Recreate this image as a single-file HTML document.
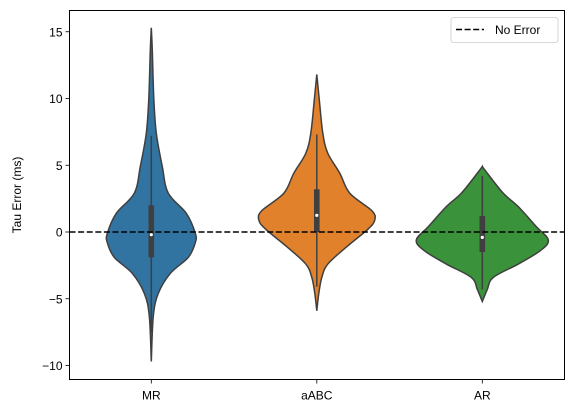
<!DOCTYPE html>
<html><head><meta charset="utf-8"><style>
html,body{margin:0;padding:0;background:#fff;}
svg{display:block;font-family:"Liberation Sans","DejaVu Sans",sans-serif;}
</style></head><body>
<svg id="chart" width="574" height="413">
<g id="plot"></g>
</svg>
<script>
const categories=["MR","aABC","AR"];
const colors=["#3274a1","#e1812c","#3a923a"];
// density profiles: y values (ms) and relative half-widths
const mrY=[15.3,13.6,10,7.4,4.9,2.9,1.4,-0.1,-0.8,-1.9,-3.1,-4.6,-6.3,-9.7];
const mrW=[0,1,2.5,5,11,17,35,44,44,37,19,7,2,0];
const abcY=[11.8,9.9,7.4,5.9,4.4,2.9,1.6,0.9,0.2,-1.1,-2.4,-3.4,-4.6,-5.9];
const abcW=[0,2.5,6,11,23,33,55,58,51,30,11,5,2,0];
const arY=[4.9,4.4,2.9,1.9,0.4,-0.6,-1.4,-2.4,-3.4,-4.3,-5.2];
const arW=[0,5,21,36,54,66,58,36,11,5,0];
const q1=[-1.9,0.0,-1.5];
const q3=[2.0,3.2,1.2];
const medians=[-0.2,1.25,-0.4];
const whiskLo=[-7.5,-4.1,-4.3];
const whiskHi=[7.2,7.3,4.2];
const yTicks=[15,10,5,0,-5,-10];

const L=69.5,R=564.5,T=10.5,B=379.5;
const y0px=232,pxPerUnit=13.35;
const yS=v=>y0px-v*pxPerUnit;
const xS=i=>151.3+i*165.5;
const NS="http://www.w3.org/2000/svg";
const svg=document.getElementById('chart');
const plot=document.getElementById('plot');
function mk(tag,attrs,parent){const e=document.createElementNS(NS,tag);for(const k in attrs)e.setAttribute(k,attrs[k]);(parent||plot).appendChild(e);return e;}
function smooth(pts){let d="M"+pts[0][0]+","+pts[0][1];for(let i=0;i<pts.length-1;i++){const p0=pts[Math.max(0,i-1)],p1=pts[i],p2=pts[i+1],p3=pts[Math.min(pts.length-1,i+2)];const c1=[p1[0]+(p2[0]-p0[0])/6,p1[1]+(p2[1]-p0[1])/6],c2=[p2[0]-(p3[0]-p1[0])/6,p2[1]-(p3[1]-p1[1])/6];d+=" C"+c1[0].toFixed(2)+","+c1[1].toFixed(2)+" "+c2[0].toFixed(2)+","+c2[1].toFixed(2)+" "+p2[0].toFixed(2)+","+p2[1].toFixed(2);}return d;}
const profY=[mrY,abcY,arY],profW=[mrW,abcW,arW];
categories.forEach((c,i)=>{
  const cx=xS(i);
  const right=profY[i].map((v,k)=>[cx+profW[i][k],yS(v)]);
  const left=profY[i].map((v,k)=>[cx-profW[i][k],yS(v)]).reverse();
  const d=smooth(right)+" "+smooth(left).replace(/^M/,"L")+" Z";
  const p=mk('path',{d:d,fill:colors[i],stroke:'#3f3f3f','stroke-width':1.5});
  
  
  const w=mk('line',{x1:cx,x2:cx,y1:yS(whiskHi[i]),y2:yS(whiskLo[i]),stroke:'#3f3f3f','stroke-width':1.5});
  
  
  const b=mk('rect',{x:cx-2.8,width:5.6,y:yS(q3[i]),height:yS(q1[i])-yS(q3[i]),fill:'#3f3f3f'});
  
  
  const m=mk('circle',{cx:cx,cy:yS(medians[i]),r:1.6,fill:'#fff'});
  
  
  const t=mk('line',{x1:cx,x2:cx,y1:B,y2:B+4,stroke:'#000','stroke-width':0.8});
  
  
  const lb=mk('text',{x:cx,y:B+20,'text-anchor':'middle','font-size':12,fill:'#000'});
  lb.textContent=c;
  
  
});
yTicks.forEach(v=>{
  const t=mk('line',{x1:L-4,x2:L,y1:yS(v),y2:yS(v),stroke:'#000','stroke-width':0.8});
  
  
  const lb=mk('text',{x:L-7,y:yS(v)+4.5,'text-anchor':'end','font-size':12,fill:'#000'});
  lb.textContent=v<0?"\u2212"+Math.abs(v):String(v);
  
  
});
const zl=mk('line',{x1:L,x2:R,y1:yS(0),y2:yS(0),stroke:'#000','stroke-width':1.6,'stroke-dasharray':'6,2.6'});


const fr=mk('rect',{x:L,y:T,width:R-L,height:B-T,fill:'none',stroke:'#000','stroke-width':1});


const yl=mk('text',{x:0,y:0,transform:'translate(21,195) rotate(-90)','text-anchor':'middle','font-size':12,fill:'#000'});
yl.textContent="Tau Error (ms)";


const lg=mk('g',{});


mk('rect',{x:451,y:17.5,width:107,height:25,rx:2.5,fill:'#fff','fill-opacity':0.8,stroke:'#ccc','stroke-width':0.8},lg);
const ll=mk('line',{x1:456,x2:484,y1:29.5,y2:29.5,stroke:'#000','stroke-width':1.6,'stroke-dasharray':'6,2.6'},lg);


const lt=mk('text',{x:495,y:34,'font-size':12,fill:'#000'},lg);
lt.textContent="No Error";


</script>
</body></html>
